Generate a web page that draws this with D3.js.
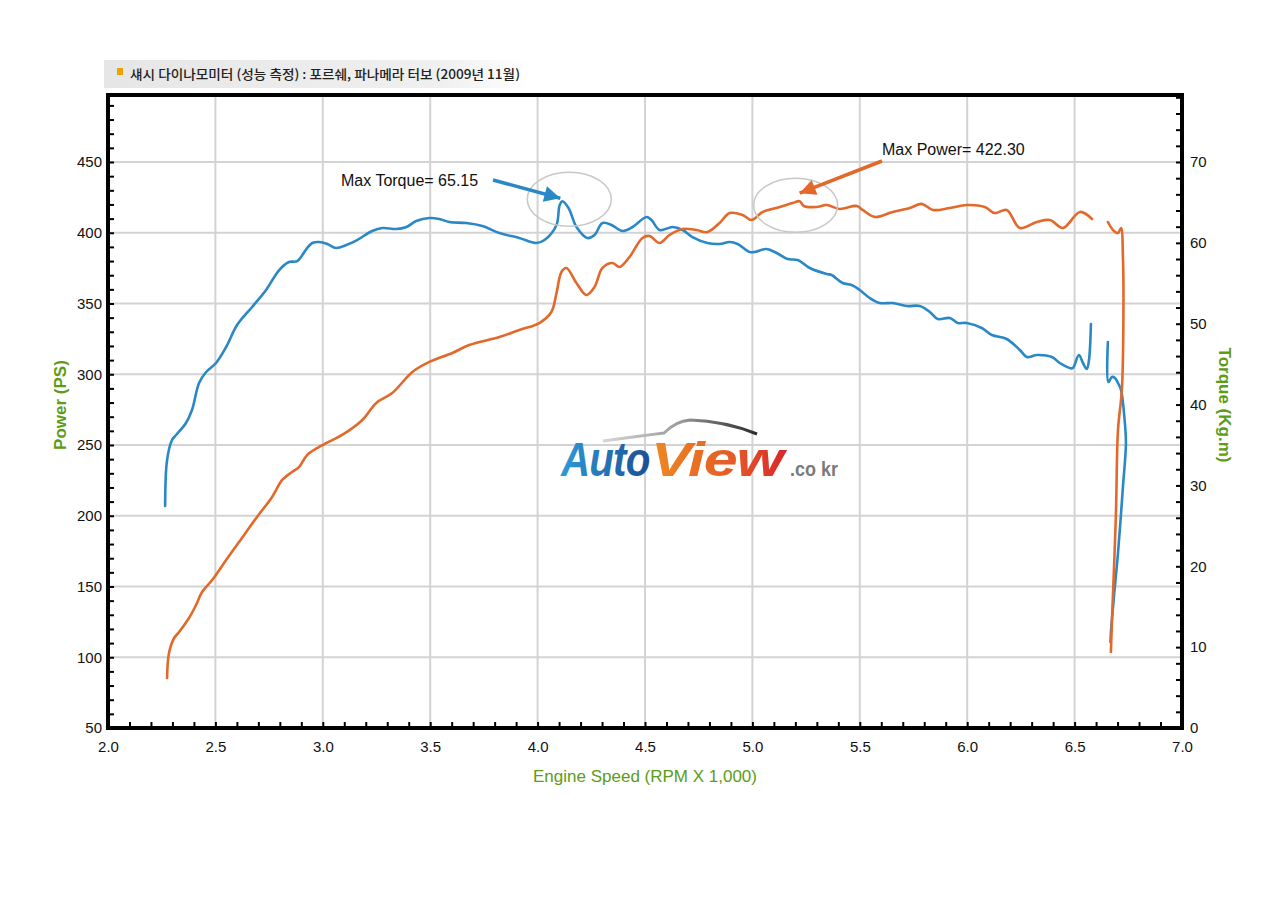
<!DOCTYPE html>
<html>
<head>
<meta charset="utf-8">
<script src="https://cdn.jsdelivr.net/npm/d3@7"></script>
<style>
  body { margin: 0; background: #fff; }
  svg { display: block; }
</style>
</head>
<body>
<div id="chart"></div>
<script>
// dyno curves: rpm (x1000), torque in kg.m, power in PS
var torqueRpm1 = [2.266, 2.275, 2.298, 2.317, 2.363, 2.391, 2.424, 2.457, 2.503, 2.550, 2.601, 2.671, 2.736, 2.797, 2.843, 2.881, 2.927, 2.951, 2.983, 3.021, 3.062, 3.109, 3.160, 3.230, 3.277, 3.342, 3.389, 3.435, 3.496, 3.542, 3.589, 3.668, 3.743, 3.822, 3.915, 3.994, 4.032, 4.088, 4.102, 4.115, 4.144, 4.181, 4.232, 4.265, 4.302, 4.344, 4.395, 4.442, 4.507, 4.530, 4.568, 4.628, 4.675, 4.721, 4.791, 4.847, 4.894, 4.931, 4.987, 5.010, 5.066, 5.113, 5.164, 5.211, 5.267, 5.346, 5.369, 5.420, 5.462, 5.500, 5.546, 5.593, 5.653, 5.719, 5.779, 5.826, 5.863, 5.919, 5.956, 5.998, 6.068, 6.115, 6.184, 6.245, 6.278, 6.324, 6.394, 6.431, 6.478, 6.492, 6.520, 6.539, 6.557, 6.567, 6.576];
var torqueVal1 = [27.45, 33.14, 35.62, 36.24, 37.72, 39.33, 42.67, 44.03, 45.14, 47.12, 49.84, 52.07, 54.17, 56.64, 57.63, 57.75, 59.36, 59.98, 60.10, 59.86, 59.36, 59.73, 60.35, 61.46, 61.83, 61.71, 61.96, 62.70, 63.07, 62.95, 62.58, 62.45, 62.08, 61.22, 60.60, 59.98, 60.35, 62.21, 64.60, 65.15, 64.31, 61.96, 60.60, 60.97, 62.45, 62.21, 61.46, 61.96, 63.19, 62.82, 61.59, 61.96, 61.59, 60.72, 59.98, 59.86, 60.10, 59.86, 58.87, 58.87, 59.24, 58.74, 58.00, 57.88, 56.89, 56.15, 56.02, 55.03, 54.79, 54.17, 53.18, 52.56, 52.56, 52.19, 52.19, 51.45, 50.58, 50.71, 50.09, 50.09, 49.47, 48.60, 48.11, 46.75, 45.88, 46.13, 45.88, 45.14, 44.52, 44.52, 46.13, 45.14, 44.40, 45.51, 49.96];
var torqueRpm2 = [6.655, 6.657, 6.674, 6.688, 6.702, 6.716, 6.734, 6.739, 6.725, 6.702, 6.683, 6.669, 6.667];
var torqueVal2 = [47.74, 42.79, 43.41, 43.28, 42.67, 41.80, 37.72, 35.25, 29.80, 21.64, 16.20, 11.75, 10.64];

var powerRpm1 = [2.275, 2.284, 2.308, 2.331, 2.377, 2.410, 2.438, 2.485, 2.550, 2.610, 2.690, 2.764, 2.811, 2.857, 2.890, 2.927, 2.983, 3.044, 3.090, 3.184, 3.249, 3.323, 3.417, 3.496, 3.603, 3.682, 3.822, 3.915, 4.008, 4.064, 4.088, 4.111, 4.134, 4.181, 4.227, 4.265, 4.302, 4.349, 4.381, 4.428, 4.488, 4.521, 4.568, 4.614, 4.675, 4.740, 4.791, 4.847, 4.894, 4.954, 4.996, 5.048, 5.127, 5.187, 5.220, 5.239, 5.299, 5.346, 5.406, 5.486, 5.513, 5.569, 5.653, 5.733, 5.788, 5.840, 5.919, 5.998, 6.082, 6.129, 6.184, 6.245, 6.324, 6.385, 6.446, 6.525, 6.581];
var powerVal1 = [85.3, 103.0, 113.6, 117.8, 127.7, 136.9, 146.1, 154.6, 168.7, 181.4, 198.4, 213.3, 225.3, 230.9, 234.5, 242.9, 248.6, 253.5, 257.1, 267.7, 279.7, 286.7, 301.6, 308.7, 315.0, 320.7, 326.3, 331.3, 336.2, 344.0, 357.4, 372.3, 375.1, 364.5, 356.0, 361.7, 375.1, 378.6, 375.8, 382.9, 396.3, 397.7, 392.8, 398.4, 402.7, 401.9, 400.5, 406.9, 413.9, 412.6, 409.0, 414.7, 418.2, 421.0, 422.3, 418.9, 418.2, 419.6, 416.8, 418.9, 416.1, 411.2, 414.7, 417.5, 420.4, 416.1, 417.5, 419.6, 418.2, 413.9, 416.1, 403.4, 407.6, 409.0, 403.4, 414.7, 409.7];
var powerRpm2 = [6.655, 6.679, 6.702, 6.716, 6.725, 6.727, 6.720, 6.702, 6.692, 6.674, 6.669];
var powerVal2 = [407.6, 401.9, 399.8, 403.4, 382.9, 336.2, 288.9, 260.6, 199.1, 126.3, 103.7];

var xTicks = [2.0, 2.5, 3.0, 3.5, 4.0, 4.5, 5.0, 5.5, 6.0, 6.5, 7.0];
var powerTicks = [50, 100, 150, 200, 250, 300, 350, 400, 450];
var torqueTicks = [0, 10, 20, 30, 40, 50, 60, 70];

var maxTorque = {rpm: 4.115, value: 65.15};
var maxPower = {rpm: 5.22, value: 422.30};

var titleText = "섀시 다이나모미터 (성능 측정) : 포르쉐, 파나메라 터보 (2009년 11월)";

var W = 1280, H = 914;
var plotL = 108, plotR = 1182, plotT = 95, plotB = 728;
var font = "'Liberation Sans', Arial, sans-serif";
var blue = "#2a88c6", orange = "#e2692a", green = "#5c9c16";

var svg = d3.select("#chart").append("svg")
    .attr("width", W)
    .attr("height", H)
    .style("font-family", font);

var defs = svg.append("defs");

var x = d3.scaleLinear().domain([2, 7]).range([plotL, plotR]);
var yP = d3.scaleLinear().domain([50, 450]).range([plotB, 162]);
var yT = d3.scaleLinear().domain([0, 70]).range([plotB, 162]);

// title strip
var tg = defs.append("linearGradient").attr("id", "titleBg");
tg.append("stop").attr("offset", "0%").attr("stop-color", "#e6e6e6");
tg.append("stop").attr("offset", "80%").attr("stop-color", "#f0f0f0");
tg.append("stop").attr("offset", "100%").attr("stop-color", "#ffffff");
svg.append("rect").attr("x", 104).attr("y", 60).attr("width", 424).attr("height", 28).attr("fill", "url(#titleBg)");
svg.append("rect").attr("x", 117).attr("y", 68).attr("width", 6).attr("height", 7).attr("fill", "#f0a000");
svg.append("text").attr("x", 130).attr("y", 79)
    .attr("font-family", "'Noto Sans CJK KR', sans-serif")
    .attr("font-size", 13).attr("font-weight", 500).attr("fill", "#222")
    .attr("textLength", 390).attr("lengthAdjust", "spacingAndGlyphs")
    .text(titleText);

// grid
svg.append("g").selectAll("line").data(xTicks.slice(1, -1)).enter().append("line")
    .attr("x1", d => x(d)).attr("x2", d => x(d))
    .attr("y1", plotT).attr("y2", plotB)
    .attr("stroke", "#d3d3d3").attr("stroke-width", 2);
svg.append("g").selectAll("line").data(powerTicks.slice(1)).enter().append("line")
    .attr("x1", plotL).attr("x2", plotR)
    .attr("y1", d => yP(d)).attr("y2", d => yP(d))
    .attr("stroke", "#d3d3d3").attr("stroke-width", 2);

// logo
function grad(id, stops) {
  var g = defs.append("linearGradient").attr("id", id);
  stops.forEach(function(s) {
    g.append("stop").attr("offset", s[0]).attr("stop-color", s[1]);
  });
}
grad("autoGrad", [["0%", "#2f9ad8"], ["100%", "#1b4f95"]]);
grad("viewGrad", [["0%", "#ee8a22"], ["60%", "#e55a26"], ["100%", "#d9262b"]]);
grad("swooshGrad", [["0%", "#d6d6d6"], ["50%", "#9a9a9a"], ["100%", "#2a2a2a"]]);

var logo = svg.append("g").attr("font-weight", "bold");
logo.append("path")
    .attr("d", "M603,441 Q640,436 664,433 Q676,421 690,420 Q725,421 757,434")
    .attr("fill", "none").attr("stroke", "url(#swooshGrad)").attr("stroke-width", 3);
logo.append("text").attr("transform", "translate(561,476) scale(0.84,1)")
    .attr("font-size", 48).attr("font-style", "italic").attr("letter-spacing", -1)
    .attr("fill", "url(#autoGrad)").text("Auto");
logo.append("text").attr("transform", "translate(651,476) scale(1.27,1)")
    .attr("font-size", 48).attr("font-style", "italic").attr("letter-spacing", -1)
    .attr("fill", "url(#viewGrad)").text("View");
logo.append("text").attr("transform", "translate(790,476) scale(0.9,1)")
    .attr("font-size", 20)
    .attr("fill", "#7a7a7a").text(".co kr");

// axes with inward ticks
function styleAxis(g) {
  g.select(".domain").remove();
  g.selectAll(".tick line").attr("stroke", "#000").attr("stroke-width", 2);
  g.selectAll(".tick text").attr("font-family", font).attr("font-size", 15).attr("fill", "#111");
}

svg.append("g").attr("transform", "translate(" + plotL + ",0)")
    .call(d3.axisLeft(yP).tickValues(d3.range(50, 491, 10)).tickSize(-6).tickPadding(6)
      .tickFormat(d => d % 50 === 0 ? d : ""))
    .call(styleAxis);

svg.append("g").attr("transform", "translate(" + plotR + ",0)")
    .call(d3.axisRight(yT).tickValues(d3.range(0, 79, 2)).tickSize(-6).tickPadding(8)
      .tickFormat(d => d % 10 === 0 ? d : ""))
    .call(styleAxis);

svg.append("g").attr("transform", "translate(0," + plotB + ")")
    .call(d3.axisBottom(x).tickValues(d3.range(20, 71, 1).map(d => d / 10)).tickSize(-6).tickPadding(13)
      .tickFormat(d => Math.round(d * 10) % 5 === 0 ? d3.format(".1f")(d) : ""))
    .call(styleAxis);

// frame
svg.append("rect").attr("x", plotL).attr("y", plotT)
    .attr("width", plotR - plotL).attr("height", plotB - plotT)
    .attr("fill", "none").attr("stroke", "#000").attr("stroke-width", 4);

// axis titles
svg.append("text").attr("transform", "translate(66,405) rotate(-90)")
    .attr("text-anchor", "middle").attr("font-size", 17).attr("font-weight", "bold")
    .attr("fill", green).text("Power (PS)");
svg.append("text").attr("transform", "translate(1219,405) rotate(90)")
    .attr("text-anchor", "middle").attr("font-size", 17).attr("font-weight", "bold")
    .attr("fill", green).text("Torque (Kg.m)");
svg.append("text").attr("x", 645).attr("y", 782)
    .attr("text-anchor", "middle").attr("font-size", 17)
    .attr("fill", green).text("Engine Speed (RPM X 1,000)");

// curves
var lineT = d3.line().x(d => x(d[0])).y(d => yT(d[1])).curve(d3.curveCatmullRom.alpha(0.5));
var lineP = d3.line().x(d => x(d[0])).y(d => yP(d[1])).curve(d3.curveCatmullRom.alpha(0.5));

var curves = svg.append("g").attr("fill", "none").attr("stroke-width", 2.6)
    .attr("stroke-linejoin", "round").attr("stroke-linecap", "round");

[[torqueRpm1, torqueVal1], [torqueRpm2, torqueVal2]].forEach(function(s) {
  curves.append("path").attr("d", lineT(d3.zip(s[0], s[1]))).attr("stroke", blue);
});
[[powerRpm1, powerVal1], [powerRpm2, powerVal2]].forEach(function(s) {
  curves.append("path").attr("d", lineP(d3.zip(s[0], s[1]))).attr("stroke", orange);
});

// annotations
[["arrowBlue", blue], ["arrowOrange", orange]].forEach(function(m) {
  defs.append("marker").attr("id", m[0])
      .attr("viewBox", "0 0 10 10").attr("refX", 10).attr("refY", 5)
      .attr("markerUnits", "userSpaceOnUse")
      .attr("markerWidth", 24).attr("markerHeight", 16).attr("orient", "auto")
    .append("path").attr("d", "M0,0 L10,5 L0,10 Z").attr("fill", m[1]);
});

var tx = x(maxTorque.rpm), ty = yT(maxTorque.value);
svg.append("ellipse").attr("cx", tx + 7).attr("cy", ty - 2).attr("rx", 42).attr("ry", 27)
    .attr("fill", "none").attr("stroke", "#c8c8c8").attr("stroke-width", 1.5);
svg.append("line").attr("x1", 493).attr("y1", 180).attr("x2", tx - 2).attr("y2", ty - 3)
    .attr("stroke", blue).attr("stroke-width", 3.5).attr("marker-end", "url(#arrowBlue)");
svg.append("text").attr("x", 341).attr("y", 186).attr("font-size", 16).attr("fill", "#111")
    .text("Max Torque= " + d3.format(".2f")(maxTorque.value));

var px = x(maxPower.rpm), py = yP(maxPower.value);
svg.append("ellipse").attr("cx", px - 4).attr("cy", py + 4).attr("rx", 42).attr("ry", 27)
    .attr("fill", "none").attr("stroke", "#c8c8c8").attr("stroke-width", 1.5);
svg.append("line").attr("x1", 882).attr("y1", 161).attr("x2", px).attr("y2", py - 8)
    .attr("stroke", orange).attr("stroke-width", 3.5).attr("marker-end", "url(#arrowOrange)");
svg.append("text").attr("x", 882).attr("y", 155).attr("font-size", 16).attr("fill", "#111")
    .text("Max Power= " + d3.format(".2f")(maxPower.value));
</script>
</body>
</html>
